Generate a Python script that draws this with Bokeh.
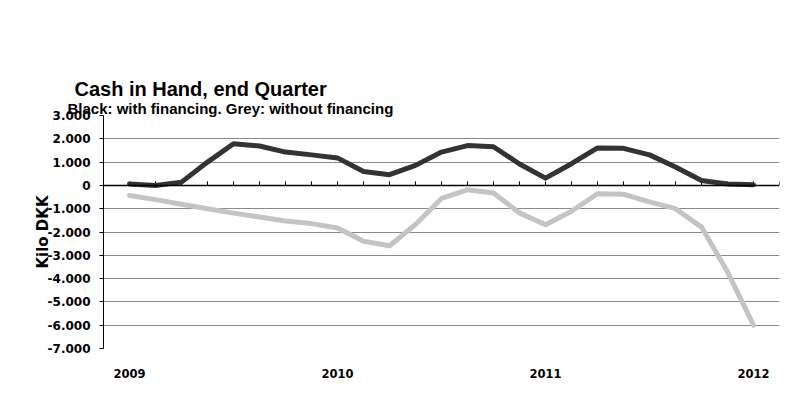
from bokeh.plotting import figure
from bokeh.models import FixedTicker, Range1d, Grid, Title, Span
from bokeh.embed import file_html
from bokeh.resources import INLINE

# ---- data ----
period_years = [2009.0, 2009.125, 2009.25, 2009.375, 2009.5, 2009.625, 2009.75, 2009.875,
                2010.0, 2010.125, 2010.25, 2010.375, 2010.5, 2010.625, 2010.75, 2010.875,
                2011.0, 2011.125, 2011.25, 2011.375, 2011.5, 2011.625, 2011.75, 2011.875,
                2012.0]
with_financing = [60, 0, 140, 1000, 1790, 1690, 1430, 1310,
                  1180, 600, 460, 860, 1430, 1710, 1660, 920,
                  310, 930, 1610, 1590, 1310, 790, 210, 60,
                  30]
without_financing = [-430, -610, -810, -1000, -1190, -1360, -1530, -1640,
                     -1830, -2400, -2590, -1680, -560, -190, -330, -1180,
                     -1690, -1110, -360, -380, -710, -1000, -1790, -3710,
                     -6000]
x_tick_years = [2009, 2010, 2011, 2012]
x_tick_labels = ["2009", "2010", "2011", "2012"]
y_ticks = [-7000, -6000, -5000, -4000, -3000, -2000, -1000, 0, 1000, 2000, 3000]
y_tick_labels = ["-7.000", "-6.000", "-5.000", "-4.000", "-3.000", "-2.000", "-1.000",
                 "0", "1.000", "2.000", "3.000"]
title_text = "Cash in Hand, end Quarter"
subtitle_text = "Black: with financing.  Grey: without financing"
y_label_text = "Kilo DKK"

X0, X1 = 2008.875, 2012.125
Y0, Y1 = -7000, 3000

p = figure(width=800, height=400, x_range=Range1d(X0, X1), y_range=Range1d(Y0, Y1),
           output_backend="svg", toolbar_location=None, title=None,
           min_border_left=103, min_border_right=21, min_border_top=115, min_border_bottom=52)
p.outline_line_color = None
p.background_fill_color = "white"
p.border_fill_color = "white"

# grid
p.xgrid.visible = False
p.ygrid.ticker = FixedTicker(ticks=[t for t in y_ticks if t not in (0, Y0, Y1)])
p.ygrid.grid_line_color = "#8a8a8a"
p.ygrid.grid_line_width = 1
p.add_layout(Grid(dimension=1, ticker=FixedTicker(ticks=[Y0, Y1]), grid_line_color="#d6d6d6"))

# y axis
yax = p.yaxis[0]
yax.ticker = FixedTicker(ticks=y_ticks)
yax.major_label_overrides = {t: l for t, l in zip(y_ticks, y_tick_labels)}
yax.major_tick_out = 4
yax.major_tick_in = 0
yax.minor_tick_line_color = None
yax.major_label_standoff = 9
yax.major_label_text_font = "DejaVu Sans"
yax.major_label_text_font_style = "bold"
yax.major_label_text_font_size = "12px"
yax.major_label_text_color = "black"
yax.axis_line_color = "black"
yax.axis_label = y_label_text
yax.axis_label_standoff = -7
yax.axis_label_text_font = "DejaVu Sans"
yax.axis_label_text_font_style = "bold"
yax.axis_label_text_font_size = "15px"
yax.axis_label_text_color = "black"

# x axis (labels at the bottom)
xax = p.xaxis[0]
xax.ticker = FixedTicker(ticks=x_tick_years)
xax.major_label_overrides = {t: l for t, l in zip(x_tick_years, x_tick_labels)}
xax.axis_line_color = None
xax.major_tick_line_color = None
xax.minor_tick_line_color = None
xax.major_tick_out = 0
xax.major_tick_in = 0
xax.major_label_standoff = 20
xax.major_label_text_font = "DejaVu Sans"
xax.major_label_text_font_style = "bold"
xax.major_label_text_font_size = "11.5px"
xax.major_label_text_color = "black"

# zero line with small upward tick marks
p.add_layout(Span(location=0, dimension="width", line_color="black", line_width=1.5))
zero_ticks = [X0 + i / 8 for i in range(27)]
tick_len = 4 * (Y1 - Y0) / 233.0
p.segment(x0=zero_ticks, y0=[0] * len(zero_ticks), x1=zero_ticks,
          y1=[tick_len] * len(zero_ticks), line_color="black", line_width=1)

# series
p.line(period_years, without_financing, line_color="#c4c4c4", line_width=5,
       line_cap="round", line_join="round")
p.line(period_years, with_financing, line_color="#333333", line_width=5,
       line_cap="round", line_join="round")

# titles (subtitle closest to the plot, main title above it)
p.add_layout(Title(text=subtitle_text, text_font="Liberation Sans", text_font_style="bold",
                   text_font_size="15px", text_color="black", align="left",
                   offset=-36, standoff=-2), "above")
p.add_layout(Title(text=title_text, text_font="Liberation Sans", text_font_style="bold",
                   text_font_size="20px", text_color="black", align="left",
                   offset=-29, standoff=-3), "above")

open("out.html", "w").write(file_html(p, INLINE))
